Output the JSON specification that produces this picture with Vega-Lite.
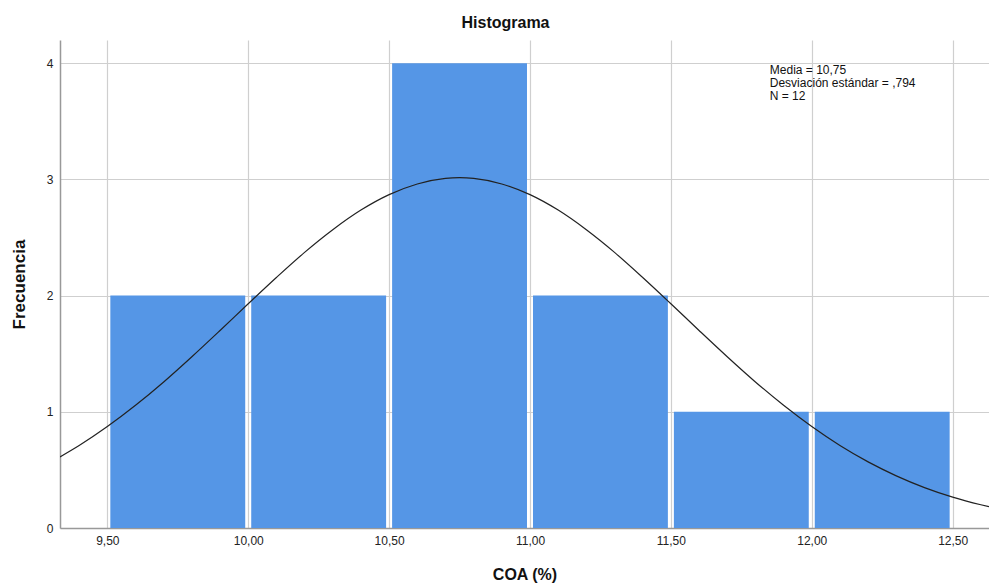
{
  "$schema": "https://vega.github.io/schema/vega-lite/v6.json",
  "autosize": {"type": "none"},
  "width": 929,
  "height": 488,
  "padding": {"left": 60, "top": 40, "right": 0, "bottom": 60},
  "background": "white",
  "title": {"text": "Histograma", "fontSize": 16, "fontWeight": "bold", "font": "Liberation Sans", "color": "#111", "offset": 9, "dx": -19},
  "config": {
    "view": {"stroke": null},
    "font": "Liberation Sans",
    "axis": {"labelFont": "Liberation Sans", "titleFont": "Liberation Sans", "labelColor": "#222", "titleColor": "#111", "labelFontSize": 12, "domainColor": "#999", "domainWidth": 1.5, "gridColor": "#cfcfcf", "gridWidth": 1.2, "ticks": false}
  },
  "datasets": {
    "bins": [
      {"start": 9.5, "end": 10.0, "count": 2},
      {"start": 10.0, "end": 10.5, "count": 2},
      {"start": 10.5, "end": 11.0, "count": 4},
      {"start": 11.0, "end": 11.5, "count": 2},
      {"start": 11.5, "end": 12.0, "count": 1},
      {"start": 12.0, "end": 12.5, "count": 1}
    ],
    "curve": [
      {"x": 9.332, "y": 0.612}, {"x": 9.4, "y": 0.710}, {"x": 9.5, "y": 0.873}, {"x": 9.6, "y": 1.056},
      {"x": 9.7, "y": 1.257}, {"x": 9.8, "y": 1.474}, {"x": 9.9, "y": 1.700}, {"x": 10.0, "y": 1.930},
      {"x": 10.1, "y": 2.156}, {"x": 10.2, "y": 2.372}, {"x": 10.3, "y": 2.567}, {"x": 10.4, "y": 2.736},
      {"x": 10.5, "y": 2.869}, {"x": 10.6, "y": 2.961}, {"x": 10.7, "y": 3.009}, {"x": 10.75, "y": 3.015},
      {"x": 10.8, "y": 3.009}, {"x": 10.9, "y": 2.961}, {"x": 11.0, "y": 2.869}, {"x": 11.1, "y": 2.736},
      {"x": 11.2, "y": 2.567}, {"x": 11.3, "y": 2.372}, {"x": 11.4, "y": 2.156}, {"x": 11.5, "y": 1.930},
      {"x": 11.6, "y": 1.700}, {"x": 11.7, "y": 1.474}, {"x": 11.8, "y": 1.257}, {"x": 11.9, "y": 1.056},
      {"x": 12.0, "y": 0.873}, {"x": 12.1, "y": 0.710}, {"x": 12.2, "y": 0.569}, {"x": 12.3, "y": 0.449},
      {"x": 12.4, "y": 0.348}, {"x": 12.5, "y": 0.266}, {"x": 12.6, "y": 0.200}, {"x": 12.629, "y": 0.183}
    ],
    "notes": [
      {"x": 11.851, "y": 3.945, "label": "Media = 10,75"},
      {"x": 11.851, "y": 3.83, "label": "Desviación estándar = ,794"},
      {"x": 11.851, "y": 3.715, "label": "N = 12"}
    ]
  },
  "layer": [
    {
      "data": {"name": "bins"},
      "mark": {"type": "bar", "color": "#5596e6", "xOffset": 3, "x2Offset": -3},
      "encoding": {
        "x": {"field": "start", "type": "quantitative", "scale": {"domain": [9.332, 12.629], "nice": false, "zero": false},
              "axis": {"values": [9.5, 10, 10.5, 11, 11.5, 12, 12.5], "labelExpr": "replace(format(datum.value, '.2f'), '.', ',')", "labelPadding": 7, "title": "COA (%)", "titleFontSize": 16, "titleFontWeight": "bold", "titlePadding": 20}},
        "x2": {"field": "end"},
        "y": {"field": "count", "type": "quantitative", "scale": {"domain": [0, 4.2], "nice": false},
              "axis": {"values": [0, 1, 2, 3, 4], "format": "d", "labelPadding": 7, "title": "Frecuencia", "titleFontSize": 17, "titleFontWeight": "bold", "titlePadding": 18}},
        "y2": {"datum": 0}
      }
    },
    {
      "data": {"name": "curve"},
      "mark": {"type": "line", "color": "#222", "strokeWidth": 1.2, "interpolate": "monotone", "clip": true},
      "encoding": {
        "x": {"field": "x", "type": "quantitative"},
        "y": {"field": "y", "type": "quantitative"}
      }
    },
    {
      "data": {"name": "notes"},
      "mark": {"type": "text", "align": "left", "baseline": "middle", "fontSize": 12, "font": "Liberation Sans", "color": "#111"},
      "encoding": {
        "x": {"field": "x", "type": "quantitative"},
        "y": {"field": "y", "type": "quantitative"},
        "text": {"field": "label"}
      }
    }
  ]
}
